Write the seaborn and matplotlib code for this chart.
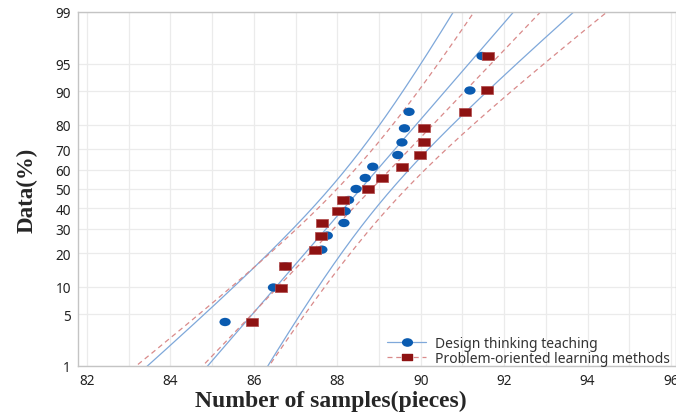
import numpy as np
import pandas as pd
import matplotlib
matplotlib.use("Agg")
import matplotlib.pyplot as plt
import seaborn as sns
from matplotlib.lines import Line2D
from matplotlib.path import Path
from matplotlib.transforms import Affine2D
from statistics import NormalDist

# data (sorted sample values)
design_thinking = [85.31, 86.47, 86.75, 87.63, 87.76, 88.16, 88.19, 88.27, 88.45,
                   88.67, 88.85, 89.45, 89.55, 89.61, 89.72, 91.18, 91.47]
problem_oriented = [85.96, 86.66, 86.75, 87.47, 87.62, 87.63, 88.01, 88.13, 88.73,
                    89.06, 89.54, 89.99, 90.07, 90.07, 91.05, 91.60, 91.61]
series_names = ["Design thinking teaching", "Problem-oriented learning methods"]
prob_ticks = [1, 5, 10, 20, 30, 40, 50, 60, 70, 80, 90, 95, 99]
x_ticks = list(range(82, 97, 2))

nd = NormalDist()


def zq(p):
    return np.array([nd.inv_cdf(v) for v in np.atleast_1d(p)])


def prob_points(vals):
    vals = np.sort(np.asarray(vals))
    n = len(vals)
    ranks = (np.arange(1, n + 1) - 0.3) / (n + 0.4)   # median ranks
    return pd.DataFrame({"value": vals, "z": zq(ranks)})


def fit_band(vals):
    vals = np.asarray(vals)
    n = len(vals)
    mu, s = vals.mean(), vals.std(ddof=1)
    z = np.linspace(-3, 3, 300)
    xp = mu + z * s
    se = s * np.sqrt(1 / n + z ** 2 / (2 * n))
    return z, xp, xp - 1.96 * se, xp + 1.96 * se


sns.set_style("white")
plt.rcParams["font.family"] = ["Noto Sans", "DejaVu Sans"]

fig = plt.figure(figsize=(6.76, 4.14), dpi=100)
ax = fig.add_axes([78 / 676, 1 - 367 / 414, 1 - 78 / 676, (367 - 13) / 414])

blue, red = "#0A5BB0", "#8E1212"
blue_line, red_line = "#7FA8DA", "#D98A8A"

# fit lines + 95% CI
for vals, col, ls in [(design_thinking, blue_line, "-"), (problem_oriented, red_line, (0, (4, 3)))]:
    z, xp, lo, hi = fit_band(vals)
    for xs in (xp, lo, hi):
        sns.lineplot(x=xs, y=z, sort=False, estimator=None, color=col,
                     linestyle=ls, linewidth=0.9, ax=ax)

ellipse = Affine2D().scale(1.35, 1).transform_path(Path.unit_circle())
rect = Path([(-1.45, -1), (1.45, -1), (1.45, 1), (-1.45, 1), (-1.45, -1)], closed=True)

d1 = prob_points(design_thinking)
d2 = prob_points(problem_oriented)
sns.scatterplot(data=d1, x="value", y="z", marker=ellipse, s=66, color=blue,
                edgecolor="none", ax=ax, zorder=3)
sns.scatterplot(data=d2, x="value", y="z", marker=rect, s=78, color=red,
                edgecolor="#B04848", linewidth=0.5, ax=ax, zorder=4)

ax.set_xlim(81.784, 96.12)
ax.set_ylim(zq(0.01)[0], zq(0.99)[0])
ax.set_yticks(zq(np.array(prob_ticks) / 100))
ax.set_yticklabels([str(p) for p in prob_ticks])
ax.set_xticks(x_ticks)
ax.set_xticks(range(83, 97, 2), minor=True)
ax.grid(True, which="both", color="#EBEBEB", linewidth=0.9)
ax.set_axisbelow(True)
ax.tick_params(axis="both", which="major", length=3, color="#BBBBBB",
               labelsize=9.8, labelcolor="#222222", pad=2)
ax.tick_params(axis="both", which="minor", length=0)
for side in ax.spines.values():
    side.set_color("#C4C4C4")
    side.set_linewidth(1.0)

ax.set_xlabel("Number of samples(pieces)", family="Liberation Serif",
              fontweight="bold", fontsize=17)
ax.xaxis.set_label_coords((331 - 78) / 598, -0.066)
ax.set_ylabel("Data(%)", family="Liberation Serif", fontweight="bold", fontsize=16.5)
ax.yaxis.set_label_coords(-0.068, 0.5)

handles = [
    Line2D([], [], color=blue_line, linewidth=0.9, marker=ellipse, markersize=7,
           markerfacecolor=blue, markeredgecolor=blue),
    Line2D([], [], color=red_line, linewidth=0.9, linestyle=(0, (4, 3)), marker=rect,
           markersize=7, markerfacecolor=red, markeredgecolor=red),
]
ax.legend(handles, series_names, loc="lower right", bbox_to_anchor=(1.01, -0.035),
          frameon=False, fontsize=10, handlelength=2.8, handletextpad=0.6,
          labelspacing=0.0, labelcolor="#333333")

fig.savefig("out.png", dpi=100)
